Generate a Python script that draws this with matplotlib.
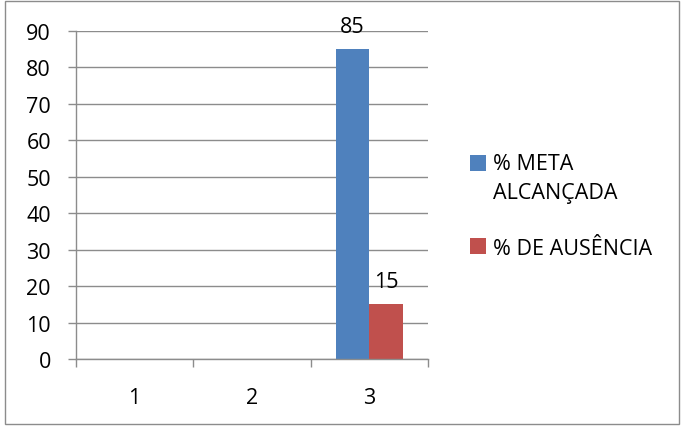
import matplotlib.pyplot as plt
from matplotlib.patches import Rectangle
import numpy as np

plt.rcParams['font.family'] = ['Open Sans', 'DejaVu Sans']

categorias = ["1", "2", "3"]
meta_alcancada = [0, 0, 85]
ausencia = [0, 0, 15]
series = ["% META\nALCANÇADA", "% DE AUSÊNCIA"]
cores = ["#4F81BD", "#C0504D"]

FS = 15.5

fig = plt.figure(figsize=(6.84, 4.27), dpi=100)
ax = fig.add_axes([0.1111, 0.1569, 0.5146, 0.7682])

x = np.arange(len(categorias))
w = 1 / 3.5
b1 = ax.bar(x - w / 2, meta_alcancada, w, color=cores[0], label=series[0])
b2 = ax.bar(x + w / 2, ausencia, w, color=cores[1], label=series[1])

for barras, vals in [(b1, meta_alcancada), (b2, ausencia)]:
    for r, v in zip(barras, vals):
        if v > 0:
            ax.annotate(str(v), (r.get_x() + r.get_width() / 2, v),
                        xytext=(0, 9), textcoords="offset points",
                        ha="center", va="bottom", fontsize=FS, color="black")

ax.set_ylim(0, 90)
ax.set_xlim(-0.5, 2.5)
ax.set_yticks(range(0, 91, 10))
ax.yaxis.grid(True, color="#8C8C8C", linewidth=1)
ax.set_axisbelow(True)

for s in ["top", "right"]:
    ax.spines[s].set_visible(False)
for s in ["left", "bottom"]:
    ax.spines[s].set_color("#8C8C8C")
    ax.spines[s].set_linewidth(1)

ax.set_xticks([-0.5, 0.5, 1.5, 2.5])
ax.set_xticklabels([])
ax.set_xticks(x, minor=True)
ax.set_xticklabels(categorias, minor=True)
ax.tick_params(axis="x", which="major", length=6, color="#8C8C8C", width=1)
ax.tick_params(axis="x", which="minor", length=0, pad=20, labelsize=FS)
ax.tick_params(axis="y", length=6, color="#8C8C8C", width=1, pad=12, labelsize=FS)

leg = fig.legend(handles=[b1, b2], labels=series, loc="upper left",
                 bbox_to_anchor=(0.687, 0.639), frameon=False, fontsize=FS,
                 handlelength=0.75, handleheight=0.75, handletextpad=0.3,
                 labelspacing=1.6, borderpad=0, borderaxespad=0)
for t in leg.get_texts():
    t.set_linespacing(1.5)
# marcador da primeira entrada alinhado com a primeira linha do texto
h0 = leg.legend_handles[0]
h0.set_y(h0.get_y() + 11)

fig.patches.append(Rectangle((0.008, 0.005), 0.985, 0.99, transform=fig.transFigure,
                             fill=False, edgecolor="#8C8C8C", linewidth=1))

fig.savefig("out.png", dpi=100)
